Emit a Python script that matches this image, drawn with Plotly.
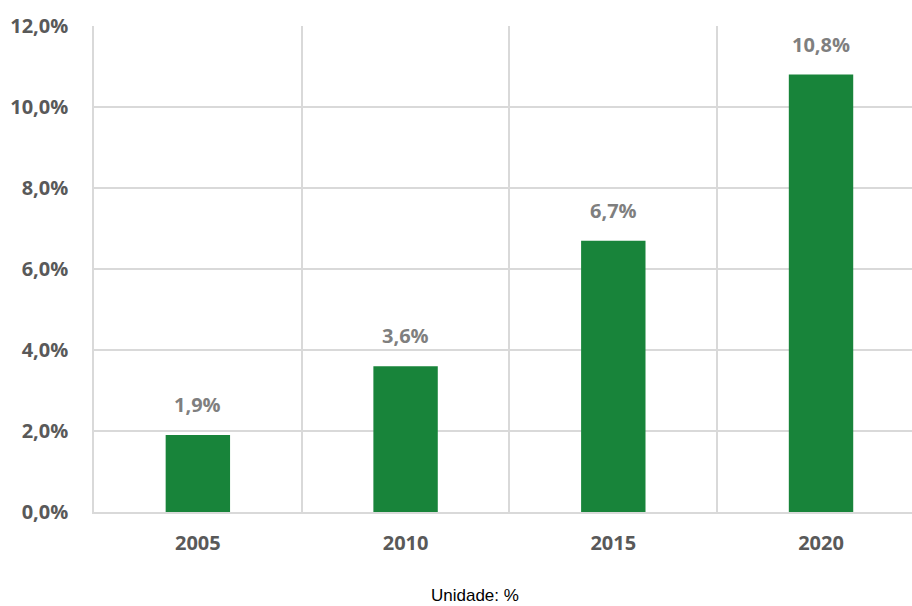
import plotly.graph_objects as go

years = ["2005", "2010", "2015", "2020"]
values = [1.9, 3.6, 6.7, 10.8]
labels = ["1,9%", "3,6%", "6,7%", "10,8%"]
ytick_vals = [0, 2, 4, 6, 8, 10, 12]
ytick_text = ["0,0%", "2,0%", "4,0%", "6,0%", "8,0%", "10,0%", "12,0%"]

font_fam = "Open Sans, Noto Sans, sans-serif"

fig = go.Figure()
fig.add_trace(go.Bar(
    x=years, y=values, width=0.31,
    marker=dict(color="#18843A", line=dict(width=0)),
    hoverinfo="skip",
))

for i, (v, t) in enumerate(zip(values, labels)):
    fig.add_annotation(x=i, y=v, xref="x", yref="y", text=t, showarrow=False,
                       yanchor="bottom", yshift=15,
                       font=dict(family=font_fam, size=20, color="#7f7f7f", weight="bold"))

fig.add_annotation(xref="paper", yref="paper", x=(475-94)/818, y=0, yshift=-83,
                   text="Unidade: %", showarrow=False, yanchor="middle",
                   font=dict(family="Liberation Sans, Arial, sans-serif", size=17, color="#000000"))

fig.update_layout(
    width=912, height=606,
    margin=dict(l=94, r=0, t=26, b=94),
    plot_bgcolor="white", paper_bgcolor="white",
    showlegend=False,
    xaxis=dict(
        type="category", range=[-0.5, 3.438], tickson="boundaries",
        showgrid=True, gridcolor="#d9d9d9", gridwidth=1.5,
        showline=True, linecolor="#d9d9d9", linewidth=1.5,
        ticks="", ticklabelstandoff=12,
        tickfont=dict(family=font_fam, size=20, color="#595959", weight="bold"),
    ),
    yaxis=dict(
        range=[0, 12], tickvals=ytick_vals, ticktext=ytick_text,
        showgrid=True, gridcolor="#d9d9d9", gridwidth=1.5,
        zeroline=False, showline=True, linecolor="#d9d9d9", linewidth=1.5,
        ticks="", ticklabelstandoff=20,
        tickfont=dict(family=font_fam, size=20, color="#595959", weight="bold"),
    ),
)

fig.write_html("out.html")
